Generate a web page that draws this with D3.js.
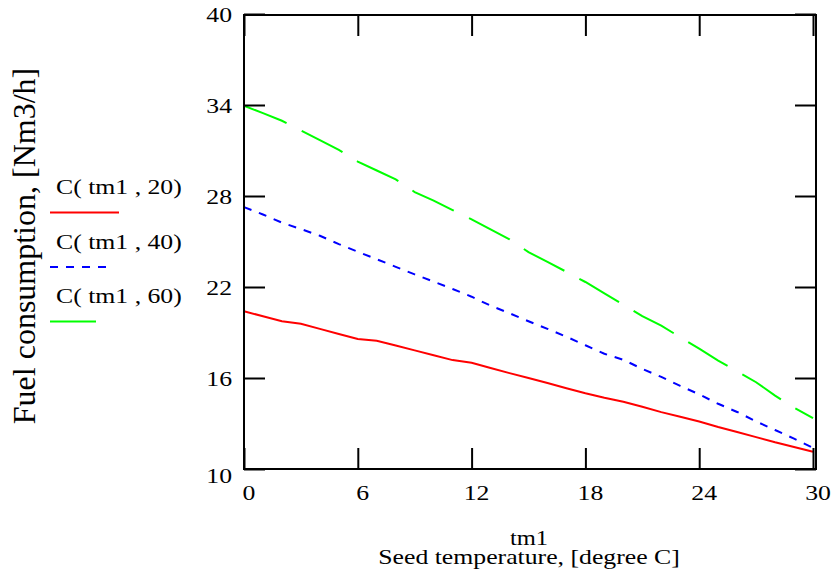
<!DOCTYPE html>
<html>
<head>
<meta charset="utf-8">
<script src="https://cdn.jsdelivr.net/npm/d3@7/dist/d3.min.js"></script>
<style>
  body { margin: 0; background: #fff; }
  svg text { font-family: "Liberation Serif", "Times New Roman", serif; fill: #000; }
</style>
</head>
<body>
<svg id="chart" width="831" height="572"></svg>
<script>
// Seed temperature (tm1), degree C
const tm1 = [0, 1, 2, 3, 4, 5, 6, 7, 8, 9, 10, 11, 12, 13, 14, 15,
             16, 17, 18, 19, 20, 21, 22, 23, 24, 25, 26, 27, 28, 29, 30];
// Fuel consumption, Nm3/h, for the three cases
const c20 = [20.40, 20.07, 19.74, 19.58, 19.24, 18.90, 18.57, 18.46, 18.14, 17.82, 17.50,
             17.18, 17.00, 16.66, 16.32, 16.00, 15.67, 15.33, 15.00, 14.70, 14.43,
             14.10, 13.75, 13.44, 13.13, 12.77, 12.44, 12.10, 11.76, 11.45, 11.14];
const c40 = [27.27, 26.78, 26.24, 25.82, 25.38, 24.83, 24.32, 23.83, 23.33, 22.83, 22.35,
             21.87, 21.36, 20.77, 20.27, 19.74, 19.24, 18.72, 18.16, 17.60, 17.20,
             16.60, 16.07, 15.48, 14.92, 14.30, 13.76, 13.14, 12.57, 12.00, 11.40];
const c60 = [33.95, 33.46, 32.96, 32.32, 31.68, 31.04, 30.27, 29.68, 29.10, 28.26, 27.70,
             27.07, 26.46, 25.80, 25.14, 24.30, 23.65, 23.00, 22.33, 21.58, 20.84,
             20.08, 19.45, 18.69, 17.93, 17.14, 16.44, 15.72, 14.84, 14.05, 13.35];

const seriesNames = ["C( tm1 , 20)", "C( tm1 , 40)", "C( tm1 , 60)"];
const xTicks = [0, 6, 12, 18, 24, 30];
const yTicks = [10, 16, 22, 28, 34, 40];
const xTitle1 = "tm1";
const xTitle2 = "Seed temperature, [degree C]";
const yTitle = "Fuel consumption, [Nm3/h]";

const series = [
  { name: seriesNames[0], values: c20, color: "#ff0000", dash: null,    legendLen: 69 },
  { name: seriesNames[1], values: c40, color: "#0000ff", dash: "8,8",   legendLen: 56 },
  { name: seriesNames[2], values: c60, color: "#00ff00", dash: "46,17", legendLen: 47 }
];

const FONT = "'Liberation Serif', 'Times New Roman', serif";
const svg = d3.select("#chart");
const frame = { left: 244, top: 15, right: 816, bottom: 469 };
const x = d3.scaleLinear().domain([0, 30]).range([244, 813]);
const y = d3.scaleLinear().domain([10, 40]).range([469, 14]);
const SX = 1.17;   // horizontal stretch applied to the serif labels
const tickLen = 21;

function label(g, px, py, str, size, anchor) {
  return g.append("text")
    .attr("transform", `translate(${px},${py}) scale(${SX},1)`)
    .attr("text-anchor", anchor)
    .style("font-family", FONT)
    .attr("font-size", size)
    .text(str);
}

// data lines
const line = d3.line().x((d, i) => x(tm1[i])).y(d => y(d));
const plot = svg.append("g");
series.forEach(s => {
  plot.append("path")
    .datum(s.values)
    .attr("d", line)
    .attr("fill", "none")
    .attr("stroke", s.color)
    .attr("stroke-width", 2)
    .attr("stroke-dasharray", s.dash);
});

// axes: ticks on all four sides, pointing inward
const axes = svg.append("g");
const bottomAxis = d3.axisBottom(x).tickValues(xTicks).tickSize(-tickLen).tickFormat("");
const topAxis = d3.axisTop(x).tickValues(xTicks).tickSize(-tickLen).tickFormat("");
const leftAxis = d3.axisLeft(y).tickValues(yTicks).tickSize(-tickLen).tickFormat("");
const rightAxis = d3.axisRight(y).tickValues(yTicks).tickSize(-tickLen).tickFormat("");
[[bottomAxis, `translate(0,${frame.bottom})`], [topAxis, `translate(0,${frame.top})`],
 [leftAxis, `translate(${frame.left},0)`], [rightAxis, `translate(${frame.right},0)`]]
  .forEach(([ax, tr]) => {
    const g = axes.append("g").attr("transform", tr).call(ax);
    g.select(".domain").remove();
    g.selectAll(".tick line").attr("stroke", "#000").attr("stroke-width", 2);
  });

// plot frame
svg.append("rect")
  .attr("x", frame.left).attr("y", frame.top)
  .attr("width", frame.right - frame.left).attr("height", frame.bottom - frame.top)
  .attr("fill", "none").attr("stroke", "#000").attr("stroke-width", 2);

// tick labels
const labels = svg.append("g");
xTicks.forEach(t => label(labels, x(t) + 5, 500, String(t), 22, "middle"));
yTicks.forEach((t, i) => label(labels, 232, y(t) + 8 + (i === 0 ? 6 : 0), String(t), 22, "end"));

// axis titles
label(labels, 529, 545, xTitle1, 21, "middle");
label(labels, 529, 564, xTitle2, 22, "middle");
svg.append("text")
  .attr("transform", "translate(35,246) rotate(-90)")
  .attr("text-anchor", "middle")
  .style("font-family", FONT)
  .attr("font-size", 32)
  .text(yTitle);

// legend
const legend = svg.append("g");
series.forEach((s, i) => {
  const base = 194 + i * 54.5;
  label(legend, 56, base, s.name, 22, "start");
  legend.append("line")
    .attr("x1", 50).attr("x2", 50 + s.legendLen)
    .attr("y1", base + 18.5).attr("y2", base + 18.5)
    .attr("stroke", s.color).attr("stroke-width", 2)
    .attr("stroke-dasharray", s.dash);
});
</script>
</body>
</html>
